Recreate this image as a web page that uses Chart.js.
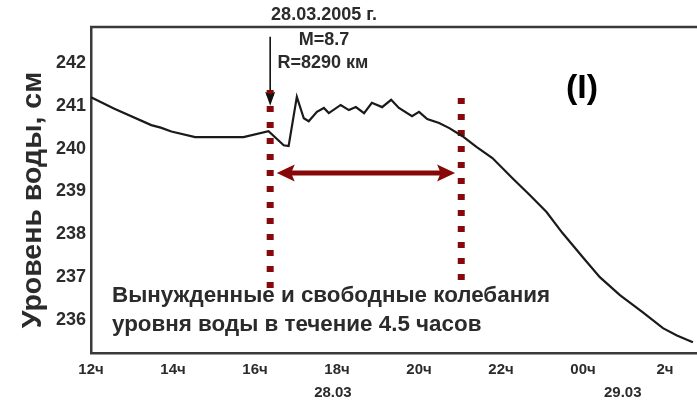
<!DOCTYPE html>
<html>
<head>
<meta charset="utf-8">
<script src="https://cdn.jsdelivr.net/npm/chart.js@4.4.1/dist/chart.umd.min.js"></script>
<style>
  html, body { margin: 0; padding: 0; background: #fff; }
  #wrap { width: 697px; height: 406px; position: relative; }
</style>
</head>
<body>
<div id="wrap"><canvas id="chart"></canvas></div>
<script>
// hours after 12:00 on 28.03.2005
const hours = [0, 0.57, 1.47, 1.7, 1.96, 2.54, 3.72, 4.33, 4.7, 4.82, 5.02, 5.19, 5.31, 5.51, 5.68, 5.80,
    6.09, 6.29, 6.46, 6.66, 6.85, 7.10, 7.32, 7.51, 7.83, 8.00, 8.20, 8.49, 8.74, 9.06, 9.40, 9.79,
    10.28, 10.70, 11.11, 11.50, 11.99, 12.41, 12.90, 13.46, 13.95, 14.29, 14.68];
const level = [241.2, 240.93, 240.55, 240.49, 240.4, 240.27, 240.27, 240.41, 240.08, 240.06, 241.21, 240.71,
    240.64, 240.86, 240.95, 240.83, 241.02, 240.90, 240.97, 240.83, 241.07, 240.97, 241.14, 240.95,
    240.76, 240.86, 240.69, 240.60, 240.48, 240.29, 240.04, 239.78, 239.31, 238.92, 238.52, 238.03,
    237.47, 237.0, 236.58, 236.18, 235.81, 235.64, 235.48];

const xTickLabels = ['12ч', '14ч', '16ч', '18ч', '20ч', '22ч', '00ч', '2ч'];
const dateLabels = ['28.03', '29.03'];
const dateHours = [5.9, 12.97];

// markers: quake moment, end of oscillations
const eventHour = 4.37;
const endHour = 9.03;
const eventLineLevels = [241.37, 236.72];
const endLineLevels = [241.18, 236.88];
const spanArrowHours = [4.53, 8.88];
const spanArrowLevel = 239.43;
const quakeArrowLevels = [242.61, 241.0];

const RED = '#870808';
const INK = '#2b2b2b';
const NARROW = '"Liberation Sans Narrow", "Liberation Sans", Arial, sans-serif';
const SANS = '"Liberation Sans", Arial, sans-serif';

const series = hours.map((h, i) => ({ x: h, y: level[i] }));

const decor = {
    id: 'decor',
    afterDatasetsDraw(chart) {
        const { ctx, chartArea: a, scales: { x, y } } = chart;
        ctx.save();
        // top frame
        ctx.strokeStyle = '#3a3a3a';
        ctx.lineWidth = 2.5;
        ctx.beginPath();
        ctx.moveTo(a.left - 1, a.top);
        ctx.lineTo(a.right, a.top);
        ctx.stroke();

        // arrowheads
        const head = (px, py, dir, len, half, color) => {
            ctx.fillStyle = color;
            ctx.beginPath();
            if (dir === 'left' || dir === 'right') {
                const s = dir === 'left' ? 1 : -1;
                ctx.moveTo(px, py);
                ctx.lineTo(px + s * len, py - half);
                ctx.lineTo(px + s * len * 0.8, py);
                ctx.lineTo(px + s * len, py + half);
            } else {
                ctx.moveTo(px, py);
                ctx.lineTo(px - half, py - len);
                ctx.lineTo(px, py - len * 0.8);
                ctx.lineTo(px + half, py - len);
            }
            ctx.closePath();
            ctx.fill();
        };
        const sy = y.getPixelForValue(spanArrowLevel);
        head(x.getPixelForValue(spanArrowHours[0]), sy, 'left', 18, 8.5, RED);
        head(x.getPixelForValue(spanArrowHours[1]), sy, 'right', 18, 8.5, RED);
        head(x.getPixelForValue(eventHour), y.getPixelForValue(quakeArrowLevels[1]), 'down', 14, 5, '#111');

        // date labels under the hour ticks
        ctx.fillStyle = INK;
        ctx.font = 'bold 15px ' + NARROW;
        ctx.textAlign = 'center';
        ctx.textBaseline = 'middle';
        dateLabels.forEach((d, i) => ctx.fillText(d, x.getPixelForValue(dateHours[i]), 393));

        // quake caption
        ctx.font = 'bold 18px ' + NARROW;
        ctx.fillText('28.03.2005 г.', 324, 15);
        ctx.fillText('M=8.7', 324, 40);
        ctx.fillText('R=8290 км', 323, 63);

        ctx.font = 'bold 34px ' + SANS;
        ctx.fillStyle = '#000';
        ctx.fillText('(I)', 582, 89);

        // annotation
        ctx.fillStyle = INK;
        ctx.font = 'bold 22.4px ' + SANS;
        ctx.textAlign = 'left';
        ctx.fillText('Вынужденные и свободные колебания', 112, 296);
        ctx.fillText('уровня воды в течение 4.5 часов', 112, 325);

        // y title
        ctx.translate(33, 200);
        ctx.rotate(-Math.PI / 2);
        ctx.textAlign = 'center';
        ctx.font = 'bold 28.5px ' + SANS;
        ctx.fillText('Уровень воды, см', 0, 0);
        ctx.restore();
    }
};

new Chart(document.getElementById('chart'), {
    type: 'line',
    data: {
        datasets: [
            {
                data: series,
                borderColor: '#1a1a1a',
                borderWidth: 2.2,
                pointRadius: 0,
                tension: 0
            },
            {
                data: eventLineLevels.map(v => ({ x: eventHour, y: v })),
                borderColor: RED,
                borderWidth: 7,
                borderDash: [6, 10],
                borderCapStyle: 'butt',
                pointRadius: 0
            },
            {
                data: endLineLevels.map(v => ({ x: endHour, y: v })),
                borderColor: RED,
                borderWidth: 7,
                borderDash: [6, 10],
                borderCapStyle: 'butt',
                pointRadius: 0
            },
            {
                data: [{ x: spanArrowHours[0] + 0.3, y: spanArrowLevel }, { x: spanArrowHours[1] - 0.3, y: spanArrowLevel }],
                borderColor: RED,
                borderWidth: 5,
                pointRadius: 0
            },
            {
                data: [{ x: eventHour, y: quakeArrowLevels[0] }, { x: eventHour, y: quakeArrowLevels[1] + 0.2 }],
                borderColor: '#111',
                borderWidth: 1.6,
                pointRadius: 0
            }
        ]
    },
    options: {
        responsive: true,
        maintainAspectRatio: false,
        animation: false,
        layout: { padding: { top: 27, right: 0, left: 0, bottom: 0 } },
        plugins: { legend: { display: false }, tooltip: { enabled: false } },
        scales: {
            x: {
                type: 'linear',
                min: 0,
                max: 14.78,
                afterFit(scale) { scale.height = 53; },
                grid: { display: false, drawTicks: false },
                border: { display: true, color: '#3a3a3a', width: 2.5 },
                ticks: {
                    stepSize: 2,
                    includeBounds: false,
                    padding: 8,
                    color: INK,
                    maxRotation: 0,
                    font: { family: NARROW, size: 15, weight: 'bold' },
                    callback: v => xTickLabels[Math.round(v / 2)]
                }
            },
            y: {
                min: 235.23,
                max: 242.84,
                afterFit(scale) { scale.width = 91; },
                grid: { display: false, drawTicks: false },
                border: { display: true, color: '#3a3a3a', width: 2.5 },
                ticks: {
                    stepSize: 1,
                    includeBounds: false,
                    padding: 5,
                    color: INK,
                    font: { family: NARROW, size: 18, weight: 'bold' }
                }
            }
        }
    },
    plugins: [decor]
});
</script>
</body>
</html>
